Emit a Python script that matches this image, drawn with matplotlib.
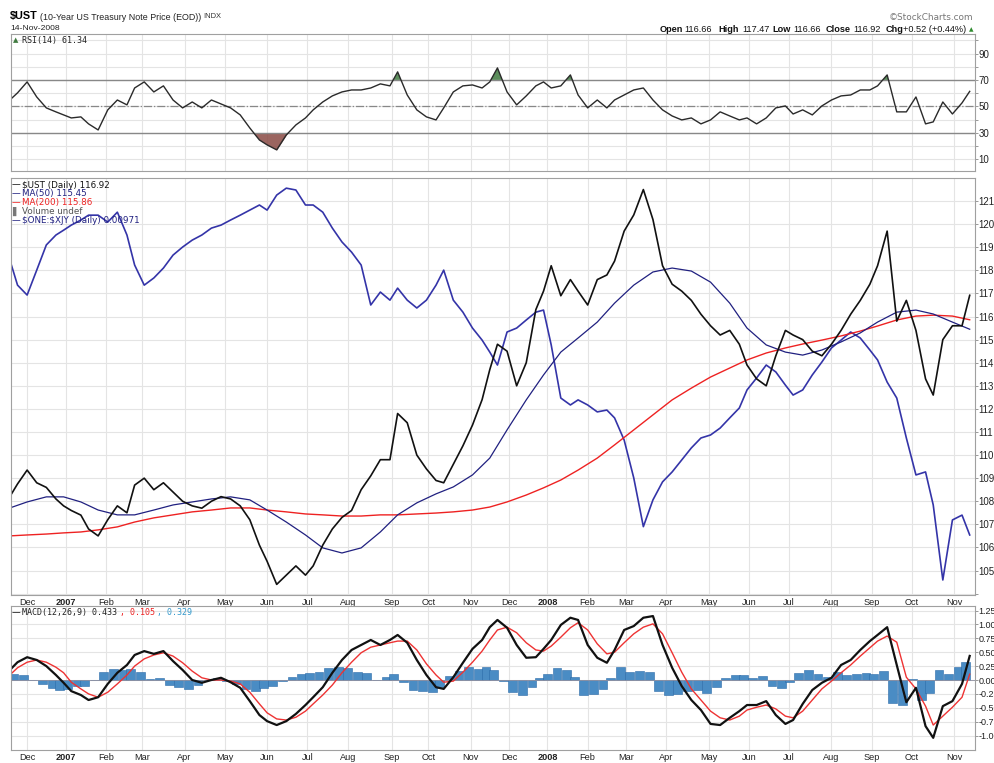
import numpy as np
import pandas as pd
import matplotlib
matplotlib.use("Agg")
import matplotlib.pyplot as plt
from pandas.tseries.holiday import USFederalHolidayCalendar

# ---------------- data (weekly readings, Fridays) ----------------
weeks = pd.date_range("2006-11-17", "2008-11-14", freq="W-FRI")

ust = [108.2, 108.75, 109.35, 108.8, 108.6, 108.1, 107.8, 107.6, 107.4, 106.8,
       106.5, 107.2, 107.8, 107.5, 108.7, 109.0, 108.5, 108.8, 108.4, 108.0,
       107.8, 107.7, 108.0, 108.2, 108.1, 107.8, 107.2, 106.1, 105.4, 104.4,
       104.8, 105.2, 104.8, 105.2, 106.1, 106.8, 107.3, 107.6, 108.5, 109.1,
       109.8, 109.8, 111.8, 111.4, 110.0, 109.4, 108.9, 108.8, 109.6, 110.4,
       111.3, 112.4, 113.7, 114.8, 114.5, 113.0, 114.0, 116.3, 117.1, 118.2,
       116.9, 117.6, 117.1, 116.5, 117.6, 117.8, 118.4, 119.7, 120.4, 121.5,
       120.2, 118.2, 117.4, 117.1, 116.7, 116.1, 115.6, 115.2, 115.4, 114.8,
       113.9, 113.3, 113.0, 114.3, 115.4, 115.2, 115.0, 114.5, 114.3, 114.8,
       115.4, 116.1, 116.7, 117.4, 118.2, 119.7, 115.8, 116.7, 115.4, 113.3,
       112.6, 115.0, 115.6, 115.6, 116.92]

xjy = [118.45, 117.36, 116.93, 118.01, 119.10, 119.53, 119.74, 119.96, 120.18, 120.39,
       120.39, 120.09, 120.52, 119.53, 118.23, 117.36, 117.67, 118.10, 118.66, 119.01,
       119.31, 119.53, 119.83, 119.96, 120.18, 120.39, 120.61, 120.83, 120.61, 121.26,
       121.56, 121.48, 120.83, 120.83, 120.52, 119.83, 119.23, 118.79, 118.23, 116.50,
       117.06, 116.71, 117.23, 116.71, 116.37, 116.71, 117.36, 118.01, 116.71, 116.19,
       115.50, 114.98, 114.46, 113.90, 115.33, 115.50, 115.85, 116.19, 116.28, 114.77,
       112.47, 112.17, 112.39, 112.17, 111.87, 111.95, 111.61, 110.65, 109.01, 106.90,
       108.06, 108.84, 109.27, 109.79, 110.31, 110.74, 110.87, 111.17, 111.61, 112.04,
       112.82, 113.34, 113.90, 113.60, 113.03, 112.60, 112.82, 113.47, 114.03, 114.64,
       114.98, 115.33, 115.07, 114.55, 114.12, 113.16, 112.47, 110.74, 109.14, 109.27,
       107.84, 104.59, 107.19, 107.40, 106.54]

# moving averages read every second week
ma_weeks = weeks[::2]
ma50 = [107.71, 107.97, 108.19, 108.19, 107.97, 107.62, 107.41, 107.41, 107.62, 107.84,
        107.97, 108.10, 108.19, 108.06, 107.62, 107.10, 106.54, 105.98, 105.76, 105.98,
        106.67, 107.41, 107.93, 108.32, 108.62, 109.14, 109.87, 111.09, 112.39, 113.47,
        114.46, 115.07, 115.76, 116.58, 117.36, 117.93, 118.10, 117.97, 117.49, 116.58,
        115.50, 114.77, 114.46, 114.33, 114.55, 114.90, 115.29, 115.76, 116.19, 116.28,
        116.11, 115.76, 115.45]
ma200 = [106.50, 106.54, 106.58, 106.63, 106.67, 106.76, 106.89, 107.10, 107.28, 107.41,
         107.54, 107.62, 107.71, 107.71, 107.62, 107.54, 107.45, 107.41, 107.36, 107.36,
         107.41, 107.41, 107.45, 107.49, 107.54, 107.62, 107.75, 107.97, 108.27, 108.58,
         108.92, 109.35, 109.87, 110.44, 111.09, 111.74, 112.39, 112.90, 113.38, 113.77,
         114.12, 114.42, 114.64, 114.81, 114.98, 115.16, 115.37, 115.59, 115.85, 116.02,
         116.06, 116.02, 115.86]

rsi = [54.8, 60.2, 68.5, 57.1, 48.8, 45.8, 43.5, 41.2, 42.0, 36.7,
       32.1, 47.3, 54.8, 51.1, 63.9, 68.5, 60.9, 65.5, 54.8, 48.8,
       53.3, 48.8, 54.8, 51.8, 48.8, 43.5, 33.6, 24.5, 20.8, 17.0,
       28.3, 35.9, 41.2, 47.3, 53.3, 57.9, 60.9, 62.4, 62.4, 63.9,
       67.0, 65.5, 76.1, 58.6, 47.3, 42.0, 39.7, 48.8, 60.9, 65.5,
       66.2, 63.9, 68.5, 79.1, 60.9, 51.1, 57.9, 65.5, 68.5, 63.9,
       65.5, 73.8, 58.6, 48.8, 54.8, 48.8, 54.8, 58.6, 62.4, 63.9,
       54.8, 47.3, 42.7, 39.7, 41.2, 36.7, 39.7, 45.8, 42.7, 39.7,
       41.2, 36.7, 41.2, 48.8, 50.3, 44.2, 47.3, 43.5, 50.3, 54.8,
       57.9, 58.6, 62.4, 62.4, 65.5, 73.8, 45.8, 45.8, 57.1, 36.7,
       38.2, 53.3, 44.2, 52.6, 61.34]

macd = [0.18, 0.32, 0.41, 0.36, 0.25, 0.09, -0.05, -0.20, -0.27, -0.36,
        -0.31, -0.07, 0.13, 0.27, 0.45, 0.52, 0.47, 0.52, 0.34, 0.18,
        0.00, -0.05, 0.00, 0.04, -0.04, -0.14, -0.38, -0.63, -0.74, -0.81,
        -0.74, -0.61, -0.45, -0.31, -0.13, 0.13, 0.36, 0.54, 0.63, 0.72,
        0.63, 0.72, 0.81, 0.67, 0.36, 0.09, -0.13, -0.16, 0.05, 0.31,
        0.56, 0.72, 0.95, 1.08, 0.94, 0.63, 0.40, 0.41, 0.56, 0.72,
        0.99, 1.12, 1.08, 0.63, 0.40, 0.31, 0.54, 0.90, 0.97, 1.12,
        1.15, 0.63, 0.22, -0.11, -0.36, -0.54, -0.79, -0.81, -0.68, -0.56,
        -0.45, -0.45, -0.38, -0.63, -0.79, -0.72, -0.43, -0.18, -0.05, 0.04,
        0.27, 0.36, 0.54, 0.70, 0.81, 0.95, 0.27, -0.40, -0.14, -0.83,
        -1.04, -0.47, -0.38, -0.07, 0.433]
signal = [0.09, 0.22, 0.32, 0.36, 0.32, 0.23, 0.13, -0.04, -0.16, -0.25,
          -0.31, -0.22, -0.07, 0.09, 0.25, 0.38, 0.45, 0.49, 0.43, 0.31,
          0.16, 0.04, 0.00, 0.00, -0.02, -0.07, -0.22, -0.43, -0.59, -0.70,
          -0.72, -0.67, -0.56, -0.43, -0.27, -0.09, 0.13, 0.32, 0.49, 0.59,
          0.63, 0.67, 0.70, 0.70, 0.54, 0.29, 0.09, -0.04, -0.02, 0.14,
          0.32, 0.52, 0.72, 0.90, 0.95, 0.85, 0.67, 0.54, 0.52, 0.61,
          0.77, 0.94, 1.03, 0.90, 0.65, 0.47, 0.50, 0.67, 0.83, 0.95,
          1.01, 0.83, 0.49, 0.14, -0.16, -0.36, -0.56, -0.68, -0.72, -0.65,
          -0.54, -0.49, -0.45, -0.52, -0.65, -0.68, -0.56, -0.36, -0.16, -0.02,
          0.13, 0.27, 0.43, 0.58, 0.70, 0.79, 0.68, 0.05, -0.16, -0.47,
          -0.81, -0.65, -0.49, -0.31, 0.105]
hist = [0.09, 0.10, 0.09, 0.00, -0.07, -0.14, -0.18, -0.16, -0.11, -0.11,
        0.00, 0.15, 0.20, 0.18, 0.20, 0.14, 0.02, 0.03, -0.09, -0.13,
        -0.16, -0.09, 0.00, 0.04, -0.02, -0.07, -0.16, -0.20, -0.15, -0.11,
        -0.02, 0.06, 0.11, 0.12, 0.14, 0.22, 0.23, 0.22, 0.14, 0.13,
        0.00, 0.05, 0.11, -0.03, -0.18, -0.20, -0.22, -0.12, 0.07, 0.17,
        0.24, 0.20, 0.23, 0.18, -0.01, -0.22, -0.27, -0.13, 0.04, 0.11,
        0.22, 0.18, 0.05, -0.27, -0.25, -0.16, 0.04, 0.23, 0.14, 0.17,
        0.14, -0.20, -0.27, -0.25, -0.20, -0.18, -0.23, -0.13, 0.04, 0.09,
        0.09, 0.04, 0.07, -0.11, -0.14, -0.04, 0.13, 0.18, 0.11, 0.06,
        0.14, 0.09, 0.11, 0.12, 0.11, 0.16, -0.41, -0.45, 0.02, -0.36,
        -0.23, 0.18, 0.11, 0.24, 0.329]

month_names = ["Dec", "2007", "Feb", "Mar", "Apr", "May", "Jun", "Jul", "Aug",
               "Sep", "Oct", "Nov", "Dec", "2008", "Feb", "Mar", "Apr", "May",
               "Jun", "Jul", "Aug", "Sep", "Oct", "Nov"]

# ---------------- trading-day x axis ----------------
hol = USFederalHolidayCalendar().holidays("2006-11-01", "2008-12-31")
days = pd.bdate_range("2006-11-17", "2008-11-14", freq="C", holidays=hol)
def pos(d):
    return days.searchsorted(pd.DatetimeIndex(d), side="right") - 1

xw = pos(weeks)
xm = pos(ma_weeks)
month_starts = pd.date_range("2006-12-01", "2008-11-01", freq="MS")
xt = days.searchsorted(month_starts)

W, H = 994, 763
fig = plt.figure(figsize=(W / 100, H / 100), dpi=100)
fig.patch.set_facecolor("white")
SANS = "Liberation Sans"

def box(top, bottom):
    return [11 / W, 1 - bottom / H, 963.5 / W, (bottom - top) / H]

ax_rsi = fig.add_axes(box(34, 171))
ax = fig.add_axes(box(178, 595))
ax_m = fig.add_axes(box(605.5, 749.5))

gridc = "#e4e4e4"
for a in (ax_rsi, ax, ax_m):
    a.set_xlim(0.6, 502.5)
    a.set_xticks(xt)
    a.grid(True, color=gridc, lw=0.8)
    a.set_axisbelow(True)
    for s in a.spines.values():
        s.set_color("#a0a0a0")
        s.set_linewidth(0.8)
    a.yaxis.tick_right()
    a.tick_params(axis="y", length=2.2, width=0.6, color="#888888",
                  labelsize=7.0, pad=0.8, labelcolor="#222222")
    a.tick_params(axis="x", length=0)
ax_m.tick_params(axis="y", labelsize=6.5)

# ---- RSI panel ----
ax_rsi.set_ylim(1, 104.8)
ax_rsi.set_yticks(np.arange(10, 101, 10))
ax_rsi.set_yticklabels(["10", "", "30", "", "50", "", "70", "", "90", ""], family=SANS)
ax_rsi.set_xticklabels([])
r = np.array(rsi)
ax_rsi.fill_between(xw, r, 70, where=r > 70, interpolate=True, color="#3f7a3f", alpha=0.85, lw=0)
ax_rsi.fill_between(xw, r, 30, where=r < 30, interpolate=True, color="#8a4a44", alpha=0.85, lw=0)
ax_rsi.axhline(70, color="#888888", lw=1)
ax_rsi.axhline(30, color="#888888", lw=1)
ax_rsi.axhline(50, color="#888888", lw=0.9, ls="-.")
ax_rsi.plot(xw, r, color="#2a2a2a", lw=1.0)

# ---- price panel ----
ax.set_ylim(103.94, 122.0)
ax.set_yticks(np.arange(104, 122))
ax.set_yticklabels([""] + [str(v) for v in range(105, 122)], family=SANS)
ax.plot(xw, xjy, color="#3434a8", lw=1.2)
ax.plot(xm, ma200, color="#ee2222", lw=1.0)
ax.plot(xm, ma50, color="#202080", lw=0.9)
ax.plot(xw, ust, color="#111111", lw=1.2)

# ---- MACD panel ----
ax_m.set_ylim(-1.25, 1.34)
mt = np.arange(-1.0, 1.26, 0.25)
ax_m.set_yticks(mt)
ax_m.set_yticklabels(["%.2f" % v for v in mt], family=SANS)
ax_m.bar(xw - 2, hist, width=4.6, color="#4a8cc4", edgecolor="#2a6aa8", lw=0.4)
ax_m.axhline(0, color="#9090a0", lw=0.6)
ax_m.plot(xw, signal, color="#ee3333", lw=1.0)
ax_m.plot(xw, macd, color="#111111", lw=1.6)

for a in (ax, ax_m):
    a.set_xticklabels(month_names, fontsize=6.6, color="#222222", family=SANS)
    a.tick_params(axis="x", pad=2.5)
    for lab in a.get_xticklabels():
        if lab.get_text() in ("2007", "2008"):
            lab.set_fontweight("bold")

# ---------------- header texts ----------------
def ft(x, y, s, **kw):
    kw.setdefault("va", "center")
    kw.setdefault("family", SANS)
    fig.text(x / W, 1 - y / H, s, **kw)

ft(10, 16, r"\$UST", fontsize=7.8, fontweight="bold")
ft(40, 17, "(10-Year US Treasury Note Price (EOD))", fontsize=6.4, color="#222222")
ft(203, 17, "INDX", fontsize=5.4, color="#333333")
ft(10, 29, "14-Nov-2008", fontsize=6.1, color="#222222")
ft(973, 17, "\u00a9StockCharts.com", fontsize=6.4, color="#777777", ha="right",
   family="DejaVu Sans")

hdr = [(660, "Open", True), (684, "116.66", False), (718, "High", True),
       (742, "117.47", False), (772, "Low", True), (793, "116.66", False),
       (826, "Close", True), (853, "116.92", False), (886, "Chg", True),
       (903, "+0.52 (+0.44%)", False)]
for x, s, b in hdr:
    ft(x, 29.5, s, fontsize=6.6, fontweight="bold" if b else "normal", color="#111111")
ft(969, 29.5, "\u25b2", fontsize=4.2, color="#2e8b2e", family="DejaVu Sans")

# RSI legend
ft(13, 40, "\u25b2", fontsize=5, color="#3f7a3f", family="DejaVu Sans")
ft(22, 40, "RSI(14) 61.34", fontsize=6, family="DejaVu Sans Mono", color="#222222")

# price legend
leg = [("\u2014", r"\$UST (Daily) 116.92", "#111111", "#111111"),
       ("\u2014", "MA(50) 115.45", "#202080", "#202080"),
       ("\u2014", "MA(200) 115.86", "#ee2222", "#ee2222"),
       ("\u258c", "Volume undef", "#777777", "#555555"),
       ("\u2014", r"\$ONE:\$XJY (Daily) 0.00971", "#202080", "#202080")]
for i, (m, s, mc, tc) in enumerate(leg):
    y = 185 + i * 8.8
    ft(12, y, m, fontsize=6.3, color=mc, family="DejaVu Sans")
    ft(22, y, s, fontsize=6.3, color=tc, family="DejaVu Sans")

# MACD legend
ft(12, 613, "\u2014", fontsize=6.3, color="#111111", family="DejaVu Sans")
ft(22, 613, "MACD(12,26,9) 0.433", fontsize=6, family="DejaVu Sans Mono", color="#222222")
ft(120, 613, ", 0.105", fontsize=6, family="DejaVu Sans Mono", color="#ee2222")
ft(157, 613, ", 0.329", fontsize=6, family="DejaVu Sans Mono", color="#3399cc")

fig.savefig("out.png", dpi=100)
